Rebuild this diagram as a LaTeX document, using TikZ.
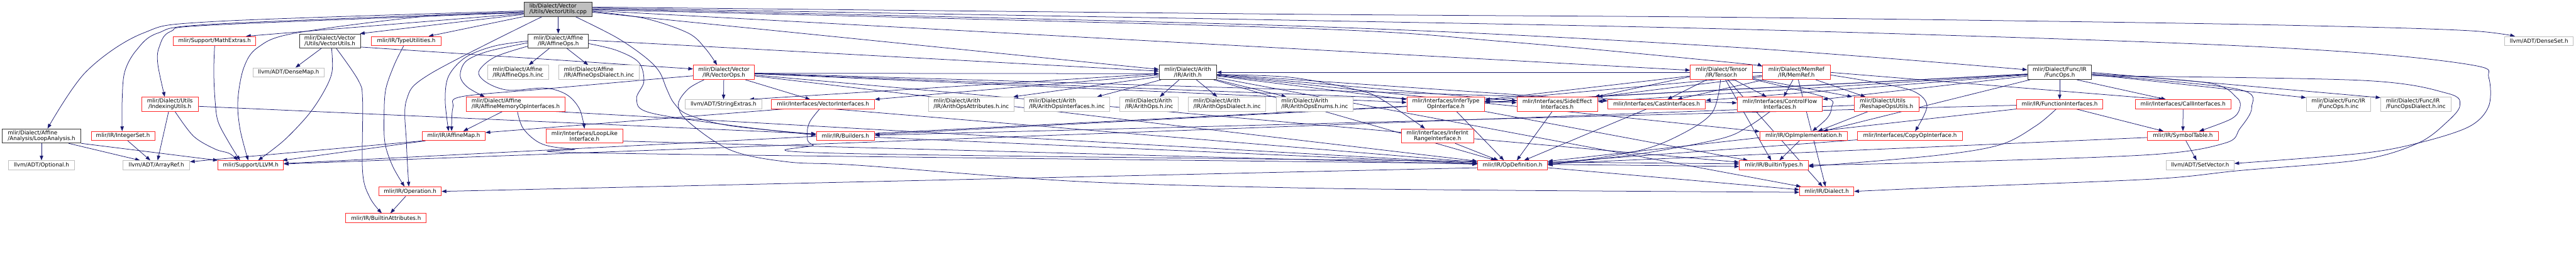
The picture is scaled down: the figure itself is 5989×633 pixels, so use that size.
\documentclass[tikz,border=0pt]{standalone}
\usepackage{fontspec}
\setmainfont{DejaVu Sans}
\usetikzlibrary{arrows.meta,backgrounds}
\definecolor{cred}{HTML}{FF2A2A}
\definecolor{cgray}{HTML}{BFBFBF}
\definecolor{cblk}{HTML}{333333}
\definecolor{rootfill}{HTML}{BFBFBF}
\definecolor{edgec}{HTML}{191970}
\newcommand\nfont{\fontsize{12.8}{12.7}\selectfont}
\newcommand\mkn[7]{\node[#1,minimum width=#5pt,minimum height=#6pt] (#2) at (#3,-#4) {#7};}
\tikzset{
  nbase/.style={draw, line width=1.4pt, fill=white, inner sep=0pt, font=\nfont, text=black},
  nred/.style={nbase, draw=cred},
  ngray/.style={nbase, draw=cgray},
  nblack/.style={nbase, draw=cblk},
  nroot/.style={nbase, draw=cblk, fill=rootfill},
  edg/.style={draw=edgec, line width=1.1pt, -{Triangle[length=11pt,width=8pt]}},
  sm/.style={smooth, tension=0.55}
}
\begin{document}
\begin{tikzpicture}[x=1pt,y=1pt]
\useasboundingbox (0,0) rectangle (5989,-633);
\mkn{nroot,align=left}{root}{1297.5}{21.5}{159}{33}{lib/Dialect/Vector\\/Utils/VectorUtils.cpp}
\mkn{nblack,align=left}{loopan}{96.5}{316.5}{183}{33}{mlir/Dialect/Affine\\/Analysis/LoopAnalysis.h}
\mkn{ngray}{optional}{96.5}{384.5}{153}{21}{llvm/ADT/Optional.h}
\mkn{nred}{intset}{286}{316.5}{148}{21}{mlir/IR/IntegerSet.h}
\mkn{ngray}{arrayref}{363.5}{384.5}{155}{21}{llvm/ADT/ArrayRef.h}
\mkn{nred,align=center}{indexing}{395}{242.5}{132}{33}{mlir/Dialect/Utils\\/IndexingUtils.h}
\mkn{nred}{mathext}{499}{95.5}{192}{21}{mlir/Support/MathExtras.h}
\mkn{nblack,align=center}{vecutilsh}{767}{95.5}{142}{33}{mlir/Dialect/Vector\\/Utils/VectorUtils.h}
\mkn{ngray}{densemap}{671}{168.5}{166}{21}{llvm/ADT/DenseMap.h}
\mkn{nred}{typeutil}{944.5}{95.5}{163}{21}{mlir/IR/TypeUtilities.h}
\mkn{nred}{llvm}{583}{384.5}{152}{21}{mlir/Support/LLVM.h}
\mkn{nred}{operation}{953.5}{445.5}{145}{21}{mlir/IR/Operation.h}
\mkn{nred}{battr}{897.5}{507.5}{187}{21}{mlir/IR/BuiltinAttributes.h}
\mkn{nred}{affmap}{1055}{316.5}{146}{21}{mlir/IR/AffineMap.h}
\mkn{nblack,align=center}{affops}{1298}{95.5}{140}{33}{mlir/Dialect/Affine\\/IR/AffineOps.h}
\mkn{ngray,align=left}{affopsinc}{1204.5}{168.5}{141}{33}{mlir/Dialect/Affine\\/IR/AffineOps.h.inc}
\mkn{ngray,align=left}{affdialinc}{1392.5}{168.5}{187}{33}{mlir/Dialect/Affine\\/IR/AffineOpsDialect.h.inc}
\mkn{nred,align=left}{affmem}{1199}{242.5}{230}{33}{mlir/Dialect/Affine\\/IR/AffineMemoryOpInterfaces.h}
\mkn{nred,align=center}{looplike}{1359}{316.5}{178}{33}{mlir/Interfaces/LoopLike\\Interface.h}
\mkn{nred,align=center}{vecops}{1683}{168.5}{142}{33}{mlir/Dialect/Vector\\/IR/VectorOps.h}
\mkn{ngray}{strext}{1682}{242.5}{178}{21}{llvm/ADT/StringExtras.h}
\mkn{nred}{vecifc}{1913.5}{242.5}{239}{21}{mlir/Interfaces/VectorInterfaces.h}
\mkn{nred}{builders}{1965.5}{316.5}{135}{21}{mlir/IR/Builders.h}
\mkn{ngray,align=left}{arattr}{2258}{242.5}{198}{33}{mlir/Dialect/Arith\\/IR/ArithOpsAttributes.h.inc}
\mkn{ngray,align=left}{arifcinc}{2480.5}{242.5}{199}{33}{mlir/Dialect/Arith\\/IR/ArithOpsInterfaces.h.inc}
\mkn{nblack,align=center}{arith}{2761.5}{168.5}{133}{33}{mlir/Dialect/Arith\\/IR/Arith.h}
\mkn{ngray,align=left}{aropsinc}{2671.5}{242.5}{135}{33}{mlir/Dialect/Arith\\/IR/ArithOps.h.inc}
\mkn{ngray,align=left}{ardialinc}{2853}{242.5}{180}{33}{mlir/Dialect/Arith\\/IR/ArithOpsDialect.h.inc}
\mkn{ngray,align=left}{arenums}{3056.5}{242.5}{179}{33}{mlir/Dialect/Arith\\/IR/ArithOpsEnums.h.inc}
\mkn{nred,align=center}{infertype}{3361.5}{242.5}{181}{33}{mlir/Interfaces/InferType\\OpInterface.h}
\mkn{nred,align=center}{inferint}{3342}{316.5}{168}{33}{mlir/Interfaces/InferInt\\RangeInterface.h}
\mkn{nred}{opdef}{3516.5}{384.5}{163}{21}{mlir/IR/OpDefinition.h}
\mkn{nred,align=center}{sideeff}{3620.5}{242.5}{187}{33}{mlir/Interfaces/SideEffect\\Interfaces.h}
\mkn{nred}{castifc}{3851.5}{242.5}{227}{21}{mlir/Interfaces/CastInterfaces.h}
\mkn{nred,align=center}{tensor}{4002}{168.5}{144}{33}{mlir/Dialect/Tensor\\/IR/Tensor.h}
\mkn{nred,align=center}{memref}{4176.5}{168.5}{157}{33}{mlir/Dialect/MemRef\\/IR/MemRef.h}
\mkn{nred,align=center}{ctrlflow}{4138}{242.5}{198}{33}{mlir/Interfaces/ControlFlow\\Interfaces.h}
\mkn{nred,align=left}{reshape}{4386}{242.5}{150}{33}{mlir/Dialect/Utils\\/ReshapeOpsUtils.h}
\mkn{nred}{opimpl}{4193.5}{316.5}{203}{21}{mlir/IR/OpImplementation.h}
\mkn{nred}{copyop}{4440.5}{316.5}{243}{21}{mlir/Interfaces/CopyOpInterface.h}
\mkn{nred}{btypes}{4124}{384.5}{160}{21}{mlir/IR/BuiltinTypes.h}
\mkn{nred}{dialect}{4247}{445.5}{126}{21}{mlir/IR/Dialect.h}
\mkn{nblack,align=center}{funcops}{4788.5}{168.5}{149}{33}{mlir/Dialect/Func/IR\\/FuncOps.h}
\mkn{nred}{funcifc}{4788.5}{242.5}{201}{21}{mlir/IR/FunctionInterfaces.h}
\mkn{nred}{callifc}{5075.5}{242.5}{223}{21}{mlir/Interfaces/CallInterfaces.h}
\mkn{nred}{symtab}{5075}{316.5}{164}{21}{mlir/IR/SymbolTable.h}
\mkn{ngray}{setvec}{5115}{384.5}{158}{21}{llvm/ADT/SetVector.h}
\mkn{ngray,align=center}{funcinc}{5436.5}{242.5}{149}{33}{mlir/Dialect/Func/IR\\/FuncOps.h.inc}
\mkn{ngray,align=left}{funcdialinc}{5616.5}{242.5}{163}{33}{mlir/Dialect/Func/IR\\/FuncOpsDialect.h.inc}
\mkn{ngray}{denseset}{5903}{95.5}{160}{21}{llvm/ADT/DenseSet.h}

\begin{pgfonlayer}{background}
% root
\draw[edg] plot[sm] coordinates {([yshift=-4pt]root.west) (500,-50) (333,-77) (200,-167) ([xshift=14pt]loopan.north)};
\draw[edg] plot[sm] coordinates {([yshift=-6pt]root.west) (500,-56) (367,-77) (317,-117) (290,-167) (284,-233) ([xshift=-2pt]intset.north)};
\draw[edg] plot[sm] coordinates {([yshift=-8pt]root.west) (500,-58) (397,-73) (370,-110) (367,-150) ([xshift=-12pt]indexing.north)};
\draw[edg] ([yshift=-10pt]root.west) -- ([xshift=73pt]mathext.north);
\draw[edg] plot[sm] coordinates {([yshift=-9pt]root.west) (1000,-37) (687,-77) (600,-110) (567,-157) (553,-233) (558,-300) ([xshift=-6pt]llvm.north)};
\draw[edg] ([yshift=-12pt]root.west) -- ([xshift=-2pt]vecutilsh.north east);
\draw[edg] (root.south west) -- ([xshift=52pt]typeutil.north);
\draw[edg] plot[sm] coordinates {([xshift=-37pt]root.south) (1000,-172) (945,-233) (945,-333) ([xshift=-3pt]operation.north)};
\draw[edg] (root) -- (affops);
\draw[edg] plot[sm] coordinates {([yshift=-5pt]root.east) (1500,-43) (1600,-77) (1640,-113) ([xshift=-16pt]vecops.north)};
\draw[edg] plot[sm] coordinates {([xshift=40pt]root.south) (1433,-87) (1500,-133) (1533,-167) (1550,-207) (1567,-240) (1600,-267) (1700,-293) ([yshift=4pt]builders.west)};
\draw[edg] ([yshift=-7pt]root.east) -- ([yshift=7pt]arith.west);
\draw[edg] ([yshift=-3pt]root.east) -- ([yshift=5pt]tensor.west);
\draw[edg] plot[sm] coordinates {([yshift=-1pt]root.east) (3000,-65) (3500,-97) (4000,-143) ([yshift=14pt]memref.west)};
\draw[edg] plot[sm] coordinates {([yshift=1pt]root.east) (3000,-60) (4000,-108) ([yshift=6pt]funcops.west)};
\draw[edg] plot[sm] coordinates {([yshift=3pt]root.east) (3000,-47) (4000,-67) (5000,-98) (5489,-123) (5756,-153) (5786,-180) (5786,-247) (5740,-295) (5622,-333) (5489,-357) ([yshift=4pt]setvec.east)};
\draw[edg] plot[sm] coordinates {([yshift=5pt]root.east) (3000,-33) (4000,-40) (5000,-53) (5500,-63) (5750,-72) ([xshift=-56pt]denseset.north)};
% VectorUtils.h
\draw[edg] ([xshift=-20pt]vecutilsh.south) -- ([xshift=16pt]densemap.north);
\draw[edg] plot[sm] coordinates {([xshift=4pt]vecutilsh.south) (772,-167) (753,-213) (717,-267) (660,-327) ([xshift=17pt]llvm.north)};
\draw[edg] plot[sm] coordinates {([xshift=15pt]vecutilsh.south) (833,-187) (843,-233) (843,-400) (860,-460) ([xshift=-10pt]battr.north)};
\draw[edg] ([yshift=-14pt]vecutilsh.east) -- ([yshift=8pt]vecops.west);
\draw[edg] plot[sm] coordinates {([xshift=-6pt]typeutil.south) (917,-150) (897,-207) (893,-267) (895,-333) (913,-387) ([xshift=-13pt]operation.north)};
\draw[edg] plot[sm] coordinates {(mathext.south) (497,-167) (500,-233) (507,-283) (533,-333) ([xshift=-25pt]llvm.north)};
% LoopAnalysis, IntegerSet, IndexingUtils, AffineMap
\draw[edg] (loopan) -- (optional);
\draw[edg] ([xshift=63pt]loopan.south) -- ([xshift=-38pt]arrayref.north);
\draw[edg] (loopan.south east) -- (llvm.north west);
\draw[edg] ([xshift=11pt]intset.south) -- ([xshift=-14pt]arrayref.north);
\draw[edg] ([xshift=-3pt]indexing.south) -- ([xshift=3pt]arrayref.north);
\draw[edg] plot[sm] coordinates {([xshift=12pt]indexing.south) (450,-317) (500,-347) (533,-357) ([xshift=-30pt]llvm.north)};
\draw[edg] ([yshift=-5pt]indexing.east) -- ([yshift=5pt]builders.west);
\draw[edg] ([xshift=3pt]affmap.south west) -- ([yshift=8pt]arrayref.east);
\draw[edg] ([xshift=8pt]affmap.south west) -- ([xshift=-3pt]llvm.north east);
% AffineOps
\draw[edg] ([xshift=-21pt]affops.south) -- ([xshift=25pt]affopsinc.north);
\draw[edg] ([xshift=20pt]affops.south) -- ([xshift=-25pt]affdialinc.north);
\draw[edg] plot[sm] coordinates {(affops.west) (1150,-107) (1083,-133) (1043,-177) (1035,-233) ([xshift=-12pt]affmap.north)};
\draw[edg] plot[sm] coordinates {([yshift=-4pt]affops.west) (1133,-120) (1083,-143) (1070,-177) (1087,-203) ([xshift=-72pt]affmem.north)};
\draw[edg] plot[sm] coordinates {([yshift=-12pt]affops.west) (1150,-133) (1113,-167) (1133,-193) (1183,-210) (1267,-205) (1317,-220) (1347,-253) (looplike.north)};
\draw[edg] plot[sm] coordinates {([yshift=-6pt]affops.east) (1433,-117) (1485,-145) (1497,-190) (1480,-230) (1510,-262) (1700,-292) ([yshift=2pt]builders.west)};
\draw[edg] ([yshift=2pt]affops.east) -- ([yshift=3pt]arith.west);
\draw[edg] ([xshift=-31pt]affmem.south) -- ([xshift=22pt]affmap.north);
\draw[edg] ([xshift=94pt]affmem.south) -- (opdef);
\draw[edg] plot[sm] coordinates {([xshift=4pt]affmem.south) (1217,-300) (1260,-335) (1333,-347) (1500,-358) ([yshift=-3pt]btypes.west)};
\draw[edg] ([yshift=-12pt]looplike.east) -- (opdef);
% VectorOps
\draw[edg] (vecops) -- (strext);
\draw[edg] ([xshift=50pt]vecops.south) -- ([xshift=-30pt]vecifc.north);
\draw[edg] plot[sm] coordinates {([yshift=-8pt]vecops.west) (1500,-186) (1267,-207) (1073,-225) (1053,-250) ([xshift=-5pt]affmap.north)};
\draw[edg] ([yshift=-2pt]vecops.east) -- ([yshift=-3pt]arith.west);
\draw[edg] (vecops) -- (ctrlflow);
\draw[edg] (vecops) -- (infertype);
\draw[edg] (vecops) -- (sideeff);
\draw[edg] (vecops) -- (opdef);
\draw[edg] (vecops) -- (btypes);
\draw[edg] plot[sm] coordinates {([xshift=-46pt]vecops.south) (1600,-207) (1577,-243) (1600,-283) (1700,-350) (1833,-377) (2000,-385) (2500,-422) (3000,-437) (3500,-443) ([yshift=-2pt]dialect.west)};
% VectorInterfaces, Builders
\draw[edg] ([xshift=-90pt]vecifc.south) -- ([yshift=8pt]affmap.east);
\draw[edg] plot[sm] coordinates {([xshift=-8pt]vecifc.south) (1883,-283) (1877,-310) (1890,-337) (2000,-358) ([yshift=3pt]btypes.west)};
\draw[edg] ([xshift=24pt]vecifc.south) -- (opdef);
\draw[edg] (builders) -- (opdef);
% Arith
\draw[edg] ([xshift=-62pt]arith.south) -- ([xshift=70pt]arifcinc.north);
\draw[edg] ([xshift=-20pt]arith.south) -- ([xshift=25pt]aropsinc.north);
\draw[edg] ([xshift=20pt]arith.south) -- ([xshift=-23pt]ardialinc.north);
\draw[edg] (arith.south east) -- ([xshift=-66pt]arenums.north);
\draw[edg] ([yshift=-10pt]arith.west) -- ([xshift=-2pt]arattr.north east);
\draw[edg] ([yshift=-6pt]arith.west) -- (vecifc.north east);
\draw[edg] ([yshift=-3pt]arith.west) -- ([xshift=60pt]strext.north);
\draw[edg] (arith) -- (infertype);
\draw[edg] plot[sm] coordinates {([yshift=-5pt]arith.east) (3000,-180) (3150,-208) (3210,-230) ([xshift=-29pt]inferint.north)};
\draw[edg] (arith) -- (sideeff);
\draw[edg] (arith) -- (castifc);
\draw[edg] (arith) -- (opdef);
\draw[edg] (arith) -- (dialect);
\draw[edg] (arith) -- (opimpl);
% interfaces
\draw[edg] ([xshift=25pt]infertype.south) -- ([xshift=-20pt]opdef.north);
\draw[edg] (infertype) -- (btypes);
\draw[edg] (infertype) -- (llvm);
\draw[edg] ([xshift=41pt]inferint.south) -- ([xshift=-33pt]opdef.north);
\draw[edg] ([xshift=-12pt]sideeff.south) -- ([xshift=10pt]opdef.north);
\draw[edg] ([xshift=-23pt]castifc.south) -- ([xshift=27pt]opdef.north);
\draw[edg] ([yshift=-6pt]opdef.west) -- (operation.east);
\draw[edg] ([yshift=-6pt]opdef.east) -- ([yshift=4pt]dialect.west);
\draw[edg] (operation) -- (battr);
% Tensor
\draw[edg] ([xshift=-34pt]tensor.south) -- ([xshift=25pt]castifc.north);
\draw[edg] ([yshift=-10pt]tensor.west) -- ([xshift=-7pt]sideeff.north east);
\draw[edg] ([xshift=30pt]tensor.south) -- ([xshift=-31pt]ctrlflow.north);
\draw[edg] ([yshift=-14pt]tensor.east) -- ([xshift=-4pt]reshape.north west);
\draw[edg] plot[sm] coordinates {([yshift=-16pt]tensor.east) (4245,-227) (4258,-250) (4248,-275) ([xshift=20pt]opimpl.north)};
\draw[edg] plot[sm] coordinates {([xshift=-2pt]tensor.south) (3980,-263) (3900,-317) (3800,-353) (opdef.east)};
\draw[edg] (tensor) -- (infertype);
\draw[edg] (tensor) -- (btypes);
\draw[edg] (tensor) -- (dialect);
% MemRef
\draw[edg] ([xshift=-8pt]memref.south) -- ([xshift=9pt]ctrlflow.north);
\draw[edg] ([xshift=45pt]memref.south) -- ([xshift=-49pt]reshape.north);
\draw[edg] plot[sm] coordinates {([yshift=-6pt]memref.east) (4367,-193) (4450,-213) (4480,-247) ([xshift=12pt]copyop.north)};
\draw[edg] (memref) -- ([xshift=48pt]castifc.north);
\draw[edg] (memref) -- (sideeff.north east);
\draw[edg] (memref) -- (arith);
\draw[edg] (memref.east) -- ([xshift=-45pt]callifc.north);
\draw[edg] (memref) -- (infertype);
\draw[edg] (memref) -- (dialect);
\draw[edg] plot[sm] coordinates {([xshift=-23pt]ctrlflow.south) (4067,-293) (4000,-323) (3800,-360) ([yshift=3pt]opdef.east)};
\draw[edg] ([xshift=-43pt]reshape.south) -- ([xshift=33pt]opimpl.north);
\draw[edg] (reshape) -- (llvm);
\draw[edg] ([xshift=-10pt]opimpl.south) -- ([xshift=13pt]btypes.north);
\draw[edg] (copyop) -- (opdef);
% FuncOps
\draw[edg] (funcops) -- (funcifc);
\draw[edg] ([xshift=40pt]funcops.south) -- ([xshift=-40pt]callifc.north);
\draw[edg] ([yshift=-5pt]funcops.east) -- ([yshift=-2pt]funcinc.north west);
\draw[edg] (funcops.east) -- ([yshift=-2pt]funcdialinc.north west);
\draw[edg] plot[sm] coordinates {([yshift=-3pt]funcops.east) (5133,-193) (5200,-227) (5207,-253) (5187,-277) ([xshift=38pt]symtab.north)};
\draw[edg] plot[sm] coordinates {([yshift=-5pt]funcops.east) (5200,-207) (5235,-250) (5207,-300) (5173,-333) (5000,-360) (4500,-378) (btypes.east)};
\draw[edg] plot[sm] coordinates {([yshift=-8pt]funcops.east) (5489,-187) (5689,-217) (5719,-245) (5690,-283) (5622,-333) (5489,-372) (5207,-397) (5000,-417) (4500,-437) (dialect.east)};
\draw[edg] (funcops) -- (ctrlflow);
\draw[edg] (funcops) -- (opimpl);
\draw[edg] (funcops) -- (castifc);
\draw[edg] (funcops) -- (sideeff);
\draw[edg] (funcops) -- (infertype);
\draw[edg] (funcops) -- (builders);
% FunctionInterfaces, CallInterfaces, SymbolTable
\draw[edg] ([xshift=38pt]funcifc.south) -- ([xshift=-45pt]symtab.north);
\draw[edg] plot[sm] coordinates {([xshift=-8pt]funcifc.south) (4733,-293) (4650,-337) (4500,-362) ([yshift=-3pt]btypes.east)};
\draw[edg] (funcifc) -- (builders);
\draw[edg] (funcifc) -- (opdef);
\draw[edg] (callifc) -- (symtab);
\draw[edg] ([xshift=7pt]symtab.south) -- ([xshift=-8pt]setvec.north);
\draw[edg] (symtab) -- (opdef);
\end{pgfonlayer}
\end{tikzpicture}
\end{document}
